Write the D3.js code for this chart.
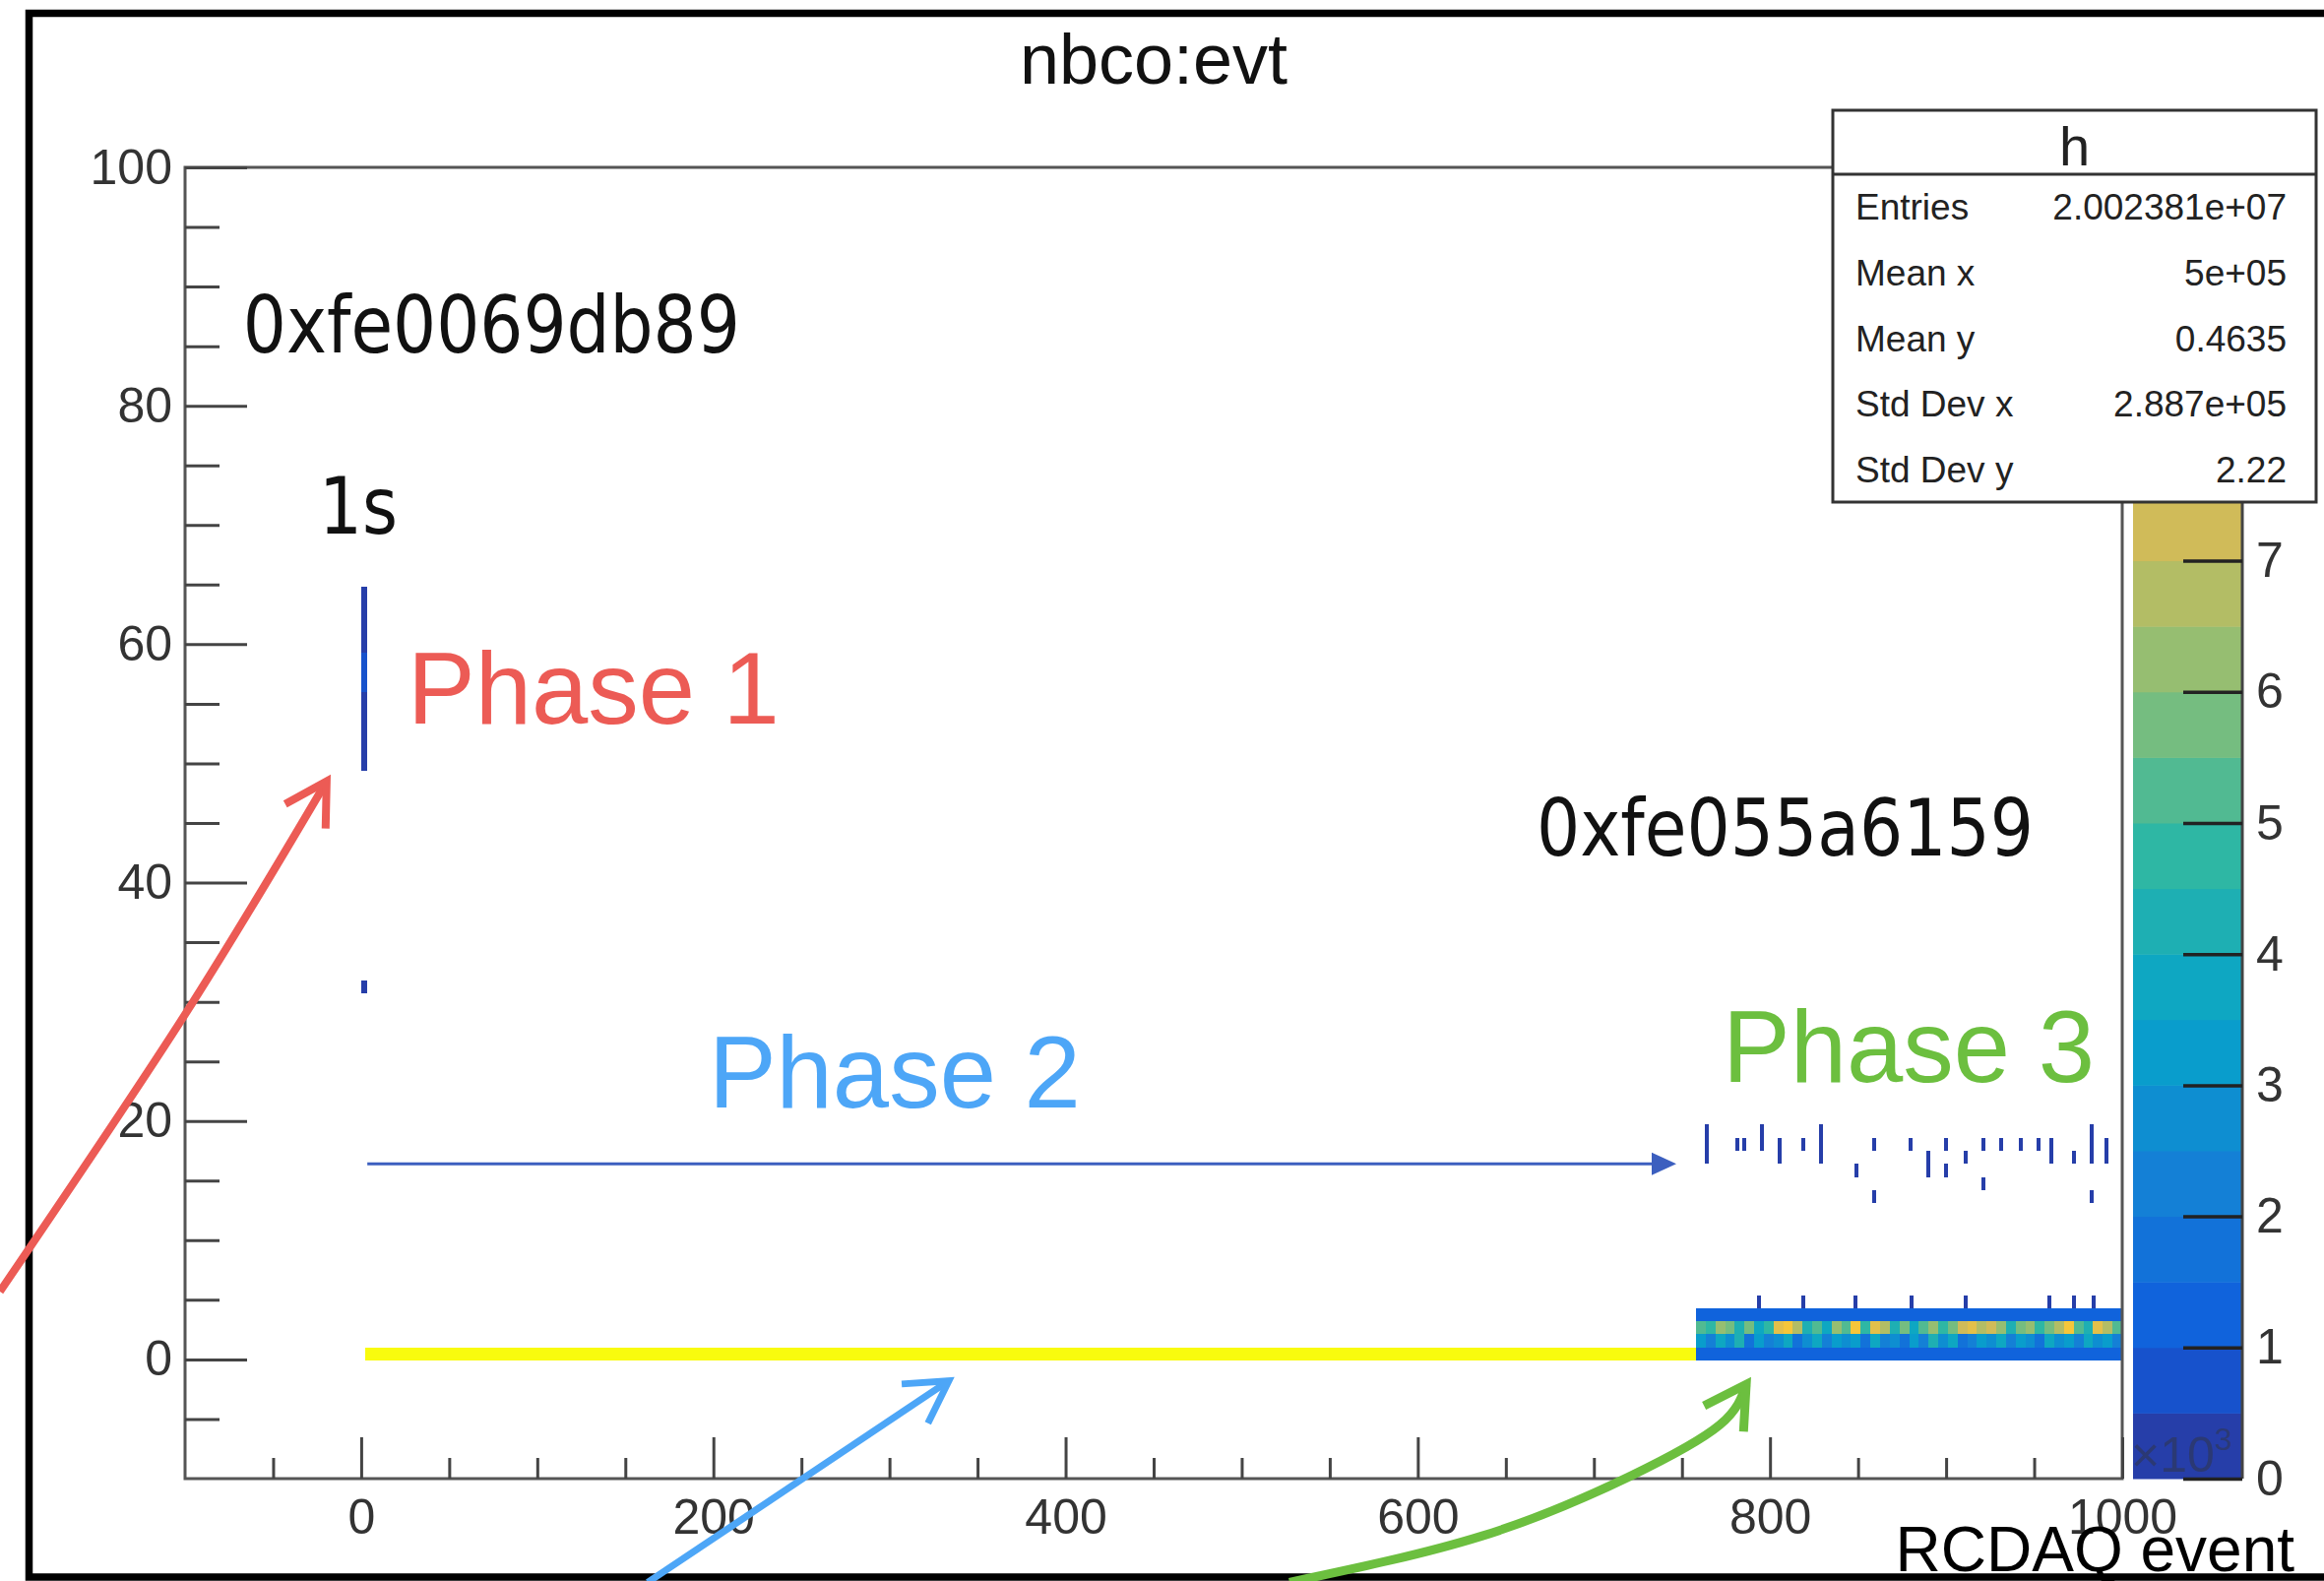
<!DOCTYPE html>
<html lang="en">
<head>
  <meta charset="UTF-8">
  <title>nbco:evt</title>
  <style>
  body { margin: 0; background: #fff; }
  svg { display: block; }
  .axis text { font-family: "Liberation Sans", Arial, sans-serif; font-size: 50px; fill: #333; }
  .axis line { stroke: #444; stroke-width: 3px; }
  .axis path { display: none; }
  .zaxis line { stroke: #222; stroke-width: 3.5px; }
  .stats text { font-family: "Liberation Sans", Arial, sans-serif; fill: #222; }
  .hex { font-family: "DejaVu Sans", sans-serif; font-size: 81px; fill: #111; }
  .phase { font-family: "Liberation Sans", Arial, sans-serif; font-size: 103px; }
  </style>
</head>
<body>
<svg id="chart" width="2361" height="1606"></svg>
<script src="https://cdn.jsdelivr.net/npm/d3@7"></script>
<script>
// histogram axes (x and z in units of 10^3)
const xRange = [-100, 1000];
const yRange = [-10, 100];
const zRange = [0, 10];
const yBinWidth = 1.1;                 // 100 y-bins over [-10, 100]
const xMajorTicks = [0, 200, 400, 600, 800, 1000];
const yMajorTicks = [0, 20, 40, 60, 80, 100];
const zTicks = [0, 1, 2, 3, 4, 5, 6, 7, 8, 9, 10];
const zContours = 20;

// phase 1: short strip near x = 0, [yBin, z]
const phase1X = [0, 3.3];
const phase1Bins = [[67, 0.3], [66, 0.3], [65, 0.3], [64, 0.4], [63, 0.3], [62, 0.6],
  [61, 0.8], [60, 0.7], [59, 0.4], [58, 0.3], [57, 0.3], [56, 0.3], [55, 0.3], [54, 0.2], [37, 0.2]];

// phase 2: single full row
const phase2X = [2.2, 758];
const phase2Bin = 9;
const phase2Z = 9.8;

// phase 3: spread over four y-bins, x-bins of 5.5 from 758
const phase3Start = 758;
const phase3Step = 5.5;
const phase3Row9 = 1.3;
const phase3Row12 = 1.2;
const phase3Row10 = [3.1, 2.2, 3.8, 2.6, 4.4, 1.9, 3.3, 2.4, 2.9, 3.6, 1.8, 2.7, 3.9, 2.1, 3.4,
  2.5, 3.0, 1.7, 3.7, 2.3, 2.8, 1.6, 3.2, 2.0, 4.1, 2.6, 3.5, 1.9, 2.4, 3.3, 2.9, 3.8, 2.2, 3.0,
  2.7, 1.8, 3.6, 2.5, 3.1, 2.0, 3.9, 2.8, 3.4, 2.3];
const phase3Row11 = [5.2, 4.6, 6.1, 5.6, 4.2, 5.8, 3.8, 4.9, 7.6, 8.1, 6.8, 4.4, 5.4, 3.9, 6.2,
  5.1, 8.3, 4.7, 7.9, 6.6, 4.1, 5.9, 3.6, 5.3, 6.4, 4.5, 5.7, 7.2, 7.7, 6.9, 7.4, 6.3, 4.0, 5.5,
  6.0, 4.8, 5.6, 6.7, 8.4, 5.0, 4.3, 7.8, 6.5, 5.2];
// sparse entries just above the band (yBin 13)
const phase3LowX = [793.7, 818.9, 848.5, 880.4, 911.1, 958.6, 972.6, 983.8];
// sparse entries around y = 13..20, [x, firstBin, lastBin]
const phase3High = [[764.1, 24, 26], [781.5, 25, 25], [785.3, 25, 25], [795.4, 25, 26],
  [805.5, 24, 25], [818.9, 25, 25], [828.9, 24, 26], [849.0, 23, 23], [859.1, 25, 25],
  [859.1, 21, 21], [879.8, 25, 25], [889.9, 23, 24], [899.9, 25, 25], [899.9, 23, 23],
  [911.1, 24, 24], [921.2, 25, 25], [921.2, 22, 22], [931.2, 25, 25], [942.4, 25, 25],
  [952.5, 25, 25], [959.8, 24, 25], [972.6, 24, 24], [982.7, 24, 26], [982.7, 21, 21],
  [991.1, 24, 25]];
const sparseZ = 0.3;
const sparseWidth = 2.2;

// stats box
const statLabels = ['Entries', 'Mean x', 'Mean y', 'Std Dev x', 'Std Dev y'];
const statValues = ['2.002381e+07', '5e+05', '0.4635', '2.887e+05', '2.22'];

// annotations, in histogram coordinates
const hexLabels = [['0xfe0069db89', -67.1, 84.5, 505], ['1s', -24.0, 69.3, 80], ['0xfe055a6159', 667.4, 42.3, 505]];
const phaseLabels = [['Phase 1', 26.3, 53.3, '#ec5b55'], ['Phase 2', 197.3, 21.1, '#4da6f7'], ['Phase 3', 773.1, 23.3, '#6cbf3f']];
const redArrow = [[-205.1, 5.7], [-100.6, 28.8], [-19.6, 48.5]];
const blueArrow = [[162.7, -18.7], [333.7, -1.8]];
const greenArrow = [[527.1, -18.7], [636.7, -14.8], [720.5, -9.8], [771.4, -5.5], [786.5, -2.1]];
const phase2Arrow = [[3.5, 16.4], [746.8, 16.4]];

// ROOT kBird palette
const birdStops = [0.0, 0.125, 0.25, 0.375, 0.5, 0.625, 0.75, 0.875, 1.0];
const birdR = [0.2082, 0.0592, 0.0780, 0.0232, 0.1802, 0.5301, 0.8186, 0.9956, 0.9764];
const birdG = [0.1664, 0.3599, 0.5041, 0.6419, 0.7178, 0.7492, 0.7328, 0.7862, 0.9832];
const birdB = [0.5293, 0.8684, 0.8385, 0.7914, 0.6425, 0.4662, 0.3499, 0.1968, 0.0539];
const bird = d3.scaleLinear().domain(birdStops)
  .range(birdStops.map((s, i) => d3.rgb(birdR[i] * 255, birdG[i] * 255, birdB[i] * 255)))
  .clamp(true);
const level = v => Math.min(zContours - 1, Math.floor(v / (zRange[1] / zContours)));
const levelColor = i => bird(Math.min(1, (i + 0.99) / zContours));
const zColor = v => levelColor(level(v));

const svg = d3.select('#chart');
const x = d3.scaleLinear().domain(xRange).range([188, 2156]);
const y = d3.scaleLinear().domain(yRange).range([1502, 170]);
const z = d3.scaleLinear().domain(zRange).range([1502, 170]);
const binY = k => yRange[0] + k * yBinWidth;

svg.append('rect').attr('width', 2361).attr('height', 1606).attr('fill', '#fff');
// outer page frame
svg.append('rect').attr('x', 29.5).attr('y', 13.5).attr('width', 2400).attr('height', 1588.5)
  .attr('fill', 'none').attr('stroke', '#000').attr('stroke-width', 7.5);

// title
svg.append('text').attr('x', 1172).attr('y', 85).attr('text-anchor', 'middle')
  .attr('font-family', '"Liberation Sans", Arial, sans-serif').attr('font-size', 72).attr('fill', '#111')
  .text('nbco:evt');

// collect histogram cells
const cells = [];
phase1Bins.forEach(([k, v]) => cells.push({ x0: phase1X[0], x1: phase1X[1], k, v }));
cells.push({ x0: phase2X[0], x1: phase2X[1], k: phase2Bin, v: phase2Z });
const x3End = phase3Start + phase3Step * phase3Row11.length;
cells.push({ x0: phase3Start, x1: x3End, k: 9, v: phase3Row9 });
cells.push({ x0: phase3Start, x1: x3End, k: 12, v: phase3Row12 });
phase3Row10.forEach((v, i) => cells.push({ x0: phase3Start + i * phase3Step, x1: phase3Start + (i + 1) * phase3Step, k: 10, v }));
phase3Row11.forEach((v, i) => cells.push({ x0: phase3Start + i * phase3Step, x1: phase3Start + (i + 1) * phase3Step, k: 11, v }));
phase3LowX.forEach(cx => cells.push({ x0: cx - sparseWidth / 2, x1: cx + sparseWidth / 2, k: 13, v: sparseZ }));
phase3High.forEach(([cx, k0, k1]) => {
  for (let k = k0; k <= k1; k++) cells.push({ x0: cx - sparseWidth / 2, x1: cx + sparseWidth / 2, k, v: sparseZ });
});

svg.append('clipPath').attr('id', 'frame-clip').append('rect')
  .attr('x', x(xRange[0])).attr('y', y(yRange[1]))
  .attr('width', x(xRange[1]) - x(xRange[0])).attr('height', y(yRange[0]) - y(yRange[1]));

svg.append('g').attr('clip-path', 'url(#frame-clip)')
  .selectAll('rect').data(cells).join('rect')
    .attr('x', d => x(d.x0))
    .attr('width', d => x(d.x1) - x(d.x0))
    .attr('y', d => y(binY(d.k + 1)))
    .attr('height', d => y(binY(d.k)) - y(binY(d.k + 1)))
    .attr('fill', d => zColor(d.v))
    .attr('shape-rendering', 'crispEdges');

// frame
svg.append('rect')
  .attr('x', x(xRange[0])).attr('y', y(yRange[1]))
  .attr('width', x(xRange[1]) - x(xRange[0])).attr('height', y(yRange[0]) - y(yRange[1]))
  .attr('fill', 'none').attr('stroke', '#555').attr('stroke-width', 3);

// axes
const yMinor = d3.range(-5, 100, 5).filter(v => v % 20 !== 0);
const xMinor = d3.range(-50, 1000, 50).filter(v => v % 200 !== 0);
svg.append('g').attr('class', 'axis').attr('transform', `translate(${x(xRange[0])},0)`)
  .call(d3.axisLeft(y).tickValues(yMajorTicks).tickSize(-63).tickPadding(13).tickFormat(d3.format('d')));
svg.append('g').attr('class', 'axis').attr('transform', `translate(${x(xRange[0])},0)`)
  .call(d3.axisLeft(y).tickValues(yMinor).tickSize(-35).tickFormat(''));
svg.append('g').attr('class', 'axis').attr('transform', `translate(0,${y(yRange[0])})`)
  .call(d3.axisBottom(x).tickValues(xMajorTicks).tickSize(-42).tickPadding(20).tickFormat(d3.format('d')));
svg.append('g').attr('class', 'axis').attr('transform', `translate(0,${y(yRange[0])})`)
  .call(d3.axisBottom(x).tickValues(xMinor).tickSize(-21).tickFormat(''));

// stats box geometry (drawn later, on top of the palette)
const box = { x: 1862, y: 112, w: 491, h: 398, head: 65 };

// palette
const palX0 = 2167, palX1 = 2278;
const bandH = zRange[1] / zContours;
svg.append('g').selectAll('rect').data(d3.range(zContours)).join('rect')
  .attr('x', palX0).attr('width', palX1 - palX0)
  .attr('y', i => z((i + 1) * bandH)).attr('height', i => z(i * bandH) - z((i + 1) * bandH) + 0.5)
  .attr('fill', i => levelColor(i));
svg.append('line').attr('x1', palX1).attr('x2', palX1).attr('y1', z(zRange[1])).attr('y2', z(zRange[0]))
  .attr('stroke', '#444').attr('stroke-width', 3);
// only the ticks not covered by the stats box
const zVisible = zTicks.filter(v => z(v) > box.y + box.h + 20);
svg.append('g').attr('class', 'axis zaxis').attr('transform', `translate(${palX1},0)`)
  .call(d3.axisRight(z).tickValues(zVisible).tickSize(-60).tickPadding(14).tickFormat(d3.format('d')));
const exp = svg.append('text').attr('x', palX0 - 2).attr('y', 1495)
  .attr('font-family', '"Liberation Sans", Arial, sans-serif').attr('font-size', 50)
  .attr('fill', '#333').attr('fill-opacity', 0.45);
exp.append('tspan').text('\u00d710');
exp.append('tspan').attr('font-size', 32).attr('dy', -22).text('3');

// stats box
const stats = svg.append('g').attr('class', 'stats');
stats.append('rect').attr('x', box.x).attr('y', box.y).attr('width', box.w).attr('height', box.h)
  .attr('fill', '#fff').attr('stroke', '#333').attr('stroke-width', 3);
stats.append('line').attr('x1', box.x).attr('x2', box.x + box.w)
  .attr('y1', box.y + box.head).attr('y2', box.y + box.head).attr('stroke', '#333').attr('stroke-width', 3);
stats.append('text').attr('x', box.x + box.w / 2).attr('y', 168).attr('text-anchor', 'middle')
  .attr('font-size', 56).text('h');
const rowH = (box.h - box.head) / statLabels.length;
statLabels.forEach((lab, i) => {
  const by = box.y + box.head + rowH * (i + 0.5) + 13;
  stats.append('text').attr('x', box.x + 23).attr('y', by).attr('font-size', 37).text(lab);
  stats.append('text').attr('x', box.x + box.w - 30).attr('y', by).attr('font-size', 37)
    .attr('text-anchor', 'end').text(statValues[i]);
});

// annotations
hexLabels.forEach(([t, hx, hy, len]) => {
  svg.append('text').attr('class', 'hex').attr('x', x(hx)).attr('y', y(hy))
    .attr('textLength', len).attr('lengthAdjust', 'spacingAndGlyphs').text(t);
});
phaseLabels.forEach(([t, px, py, c]) => {
  svg.append('text').attr('class', 'phase').attr('x', x(px)).attr('y', y(py)).attr('fill', c).text(t);
});

function chevron(pts, color, width, len) {
  const [a, b] = pts.slice(-2).map(p => [x(p[0]), y(p[1])]);
  const back = Math.atan2(a[1] - b[1], a[0] - b[0]);
  const w1 = [b[0] + len * Math.cos(back + Math.PI / 6), b[1] + len * Math.sin(back + Math.PI / 6)];
  const w2 = [b[0] + len * Math.cos(back - Math.PI / 6), b[1] + len * Math.sin(back - Math.PI / 6)];
  svg.append('path').attr('d', d3.line()([w1, b, w2]))
    .attr('fill', 'none').attr('stroke', color).attr('stroke-width', width).attr('stroke-linejoin', 'miter');
}
function curvedArrow(pts, color, width) {
  svg.append('path')
    .attr('d', d3.line().x(p => x(p[0])).y(p => y(p[1])).curve(d3.curveNatural)(pts))
    .attr('fill', 'none').attr('stroke', color).attr('stroke-width', width);
  chevron(pts, color, width, 48);
}
curvedArrow(redArrow, '#ec5b55', 8);
curvedArrow(blueArrow, '#4da6f7', 7);
curvedArrow(greenArrow, '#6cbf3f', 9);

// horizontal arrow across phase 2
const ax0 = x(phase2Arrow[0][0]), ax1 = x(phase2Arrow[1][0]), ay = y(phase2Arrow[0][1]);
svg.append('line').attr('x1', ax0).attr('x2', ax1 - 20).attr('y1', ay).attr('y2', ay)
  .attr('stroke', '#3c5fbf').attr('stroke-width', 3);
svg.append('path').attr('d', d3.line()([[ax1, ay], [ax1 - 25, ay - 11.5], [ax1 - 25, ay + 11.5]]) + 'Z')
  .attr('fill', '#3c5fbf');

// x axis title
svg.append('text').attr('x', 2331).attr('y', 1596).attr('text-anchor', 'end')
  .attr('font-family', '"Liberation Sans", Arial, sans-serif').attr('font-size', 64).attr('fill', '#000')
  .text('RCDAQ event');
</script>
</body>
</html>
